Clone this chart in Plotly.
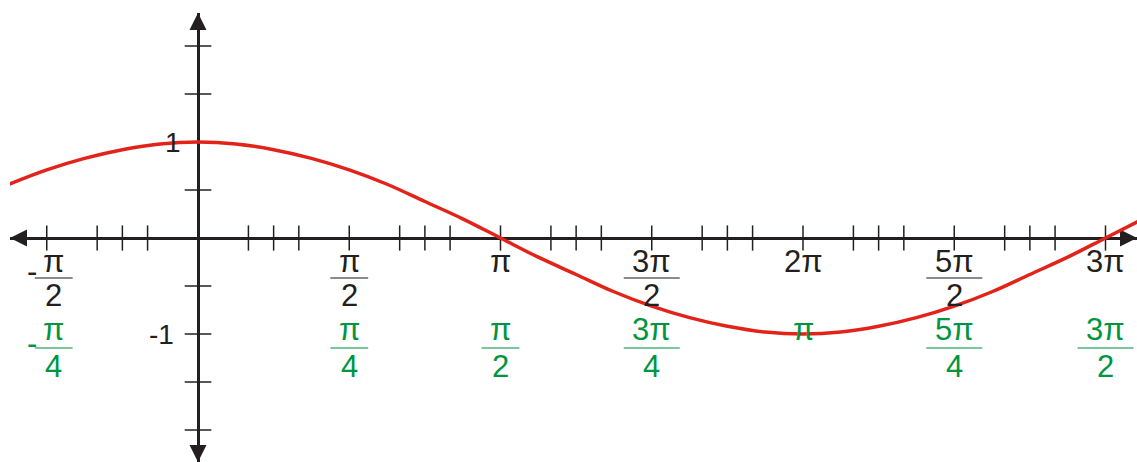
import math
import plotly.graph_objects as go

# --- data (x values in multiples of pi) ---
curve_x_over_pi = [-0.625, -0.5, -0.375, -0.25, -0.125, 0.0, 0.125, 0.25, 0.375, 0.5,
                   0.625, 0.75, 0.875, 1.0, 1.125, 1.25, 1.375, 1.5, 1.625, 1.75,
                   1.875, 2.0, 2.125, 2.25, 2.375, 2.5, 2.625, 2.75, 2.875, 3.0, 3.125]
curve_y = [0.56, 0.71, 0.83, 0.92, 0.98, 1.0, 0.98, 0.92, 0.83, 0.71,
           0.56, 0.38, 0.2, 0.0, -0.2, -0.38, -0.56, -0.71, -0.83, -0.92,
           -0.98, -1.0, -0.98, -0.92, -0.83, -0.71, -0.56, -0.38, -0.2, 0.0, 0.2]

x_tick_over_pi = [-1/2, -1/3, -1/4, -1/6, 1/6, 1/4, 1/3, 1/2,
                  2/3, 3/4, 5/6, 1, 7/6, 5/4, 4/3, 3/2,
                  5/3, 7/4, 11/6, 2, 13/6, 9/4, 7/3, 5/2,
                  8/3, 11/4, 17/6, 3]
y_ticks = [2, 1.5, 1, 0.5, -0.5, -1, -1.5, -2]

label_pos_over_pi = [-0.5, 0.5, 1, 1.5, 2, 2.5, 3]
label_sign = ['-', '', '', '', '', '', '']
black_num = ['π', 'π', 'π', '3π', '2π', '5π', '3π']
black_den = ['2', '2', '', '2', '', '2', '']
green_num = ['π', 'π', 'π', '3π', 'π', '5π', '3π']
green_den = ['4', '4', '2', '4', '', '4', '2']

y_labels = ['1', '-1']
y_label_vals = [1, -1]

# --- geometry of the picture (pixels) ---
W, H = 1137, 462
PX_X0, PX_PER_PI = 198, 302.5
PX_Y0, PX_PER_UNIT = 238, 96
L, R, T, B = 10, 1137, 13, 462

BLACK = '#231f20'
GREEN = '#00963f'
RED = '#e2231a'
FONT = 'Liberation Sans, Arial, sans-serif'
FS = 31

x_range = [(L - PX_X0) / PX_PER_PI * math.pi, (R - PX_X0) / PX_PER_PI * math.pi]
y_range = [-(B - PX_Y0) / PX_PER_UNIT, (PX_Y0 - T) / PX_PER_UNIT]

fig = go.Figure()

# tick marks
fig.add_trace(go.Scatter(
    x=[v * math.pi for v in x_tick_over_pi], y=[0] * len(x_tick_over_pi),
    mode='markers', hoverinfo='skip',
    marker=dict(symbol='line-ns-open', size=18, color=BLACK, line=dict(width=1.5, color=BLACK))
))
fig.add_trace(go.Scatter(
    x=[0] * len(y_ticks), y=y_ticks,
    mode='markers', hoverinfo='skip',
    marker=dict(symbol='line-ew-open', size=19, color=BLACK, line=dict(width=1.5, color=BLACK))
))

# arrow heads at the four ends of the axes
fig.add_trace(go.Scatter(
    x=[x_range[0], x_range[1], 0, 0], y=[0, 0, y_range[1], y_range[0]],
    mode='markers', hoverinfo='skip', cliponaxis=False,
    marker=dict(symbol=['arrow-left', 'arrow-right', 'arrow-up', 'arrow-down'],
                size=17, color=BLACK, line=dict(width=0))
))

# fraction bars
def bar_trace(nums, dens, bar_px, color):
    xs, ys, sizes = [], [], []
    for i, p in enumerate(label_pos_over_pi):
        if not dens[i]:
            continue
        xs.append(p * math.pi + (7 * math.pi / PX_PER_PI if label_sign[i] else 0))
        ys.append(-bar_px / PX_PER_UNIT)
        sizes.append(40 if len(nums[i]) > 1 else 27)
    return go.Scatter(x=xs, y=ys, mode='markers', hoverinfo='skip',
                      marker=dict(symbol='line-ew-open', size=sizes, color=color,
                                  line=dict(width=1.5, color=color)))

fig.add_trace(bar_trace(black_num, black_den, 40, BLACK))
fig.add_trace(bar_trace(green_num, green_den, 110, GREEN))

# the cosine curve
fig.add_trace(go.Scatter(
    x=[v * math.pi for v in curve_x_over_pi], y=curve_y,
    mode='lines', line=dict(color=RED, width=3.5, shape='spline'),
    hoverinfo='skip'
))

# labels: numerator above the bar, denominator below
def add_labels(nums, dens, num_shift, den_shift, sign_shift, color):
    for i, p in enumerate(label_pos_over_pi):
        xs = 7 if label_sign[i] else 0
        fig.add_annotation(x=p * math.pi, y=0, text=nums[i], showarrow=False,
                           xanchor='center', yanchor='bottom', xshift=xs, yshift=num_shift,
                           font=dict(family=FONT, size=FS, color=color))
        if dens[i]:
            fig.add_annotation(x=p * math.pi, y=0, text=dens[i], showarrow=False,
                               xanchor='center', yanchor='top', xshift=xs, yshift=den_shift,
                               font=dict(family=FONT, size=FS, color=color))
        if label_sign[i]:
            fig.add_annotation(x=p * math.pi, y=0, text=label_sign[i], showarrow=False,
                               xanchor='center', yanchor='middle', xshift=-15, yshift=sign_shift,
                               font=dict(family=FONT, size=FS, color=color))

add_labels(black_num, black_den, -43, -38, -33, BLACK)
add_labels(green_num, green_den, -111, -109, -105, GREEN)

for txt, v in zip(y_labels, y_label_vals):
    fig.add_annotation(x=0, y=v, text=txt, showarrow=False,
                       xanchor='right', yanchor='middle',
                       xshift=-15 if txt == '1' else -22,
                       font=dict(family=FONT, size=28, color=BLACK))

fig.update_layout(
    width=W, height=H,
    margin=dict(l=L, r=W - R, t=T, b=H - B, autoexpand=False),
    plot_bgcolor='white', paper_bgcolor='white',
    showlegend=False,
    xaxis=dict(range=x_range, showgrid=False, showticklabels=False, ticks='',
               zeroline=True, zerolinecolor=BLACK, zerolinewidth=2.5, fixedrange=True),
    yaxis=dict(range=y_range, showgrid=False, showticklabels=False, ticks='',
               zeroline=True, zerolinecolor=BLACK, zerolinewidth=2.5, fixedrange=True),
)

# the page's default body margin would shift the figure
fig.write_html("out.html", config={'displayModeBar': False},
               post_script="document.body.style.margin='0';")
